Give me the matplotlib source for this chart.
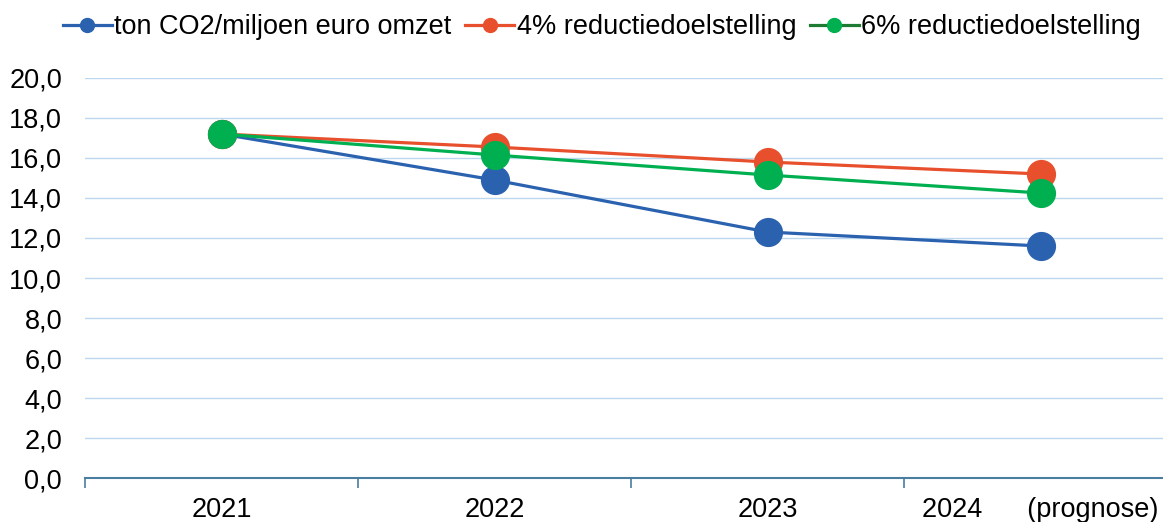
import matplotlib.pyplot as plt
from matplotlib.lines import Line2D
import numpy as np

plt.rcParams['font.family'] = ['Liberation Sans', 'DejaVu Sans']

# Data
jaren = ["2021", "2022", "2023", "2024      (prognose)"]
werkelijk = [17.2, 14.9, 12.3, 11.6]
doel_4 = [17.2, 16.55, 15.8, 15.2]
doel_6 = [17.2, 16.15, 15.15, 14.25]

blauw = "#2A62AF"
rood = "#E8502D"
groen = "#00B050"
groen_donker = "#1E7B34"

fig = plt.figure(figsize=(11.63, 5.22), dpi=100)
ax = fig.add_axes([85 / 1163, 44 / 522, 1092 / 1163, 400 / 522])

x = np.arange(len(jaren))
ax.plot(x, werkelijk, color=blauw, lw=2.3, marker="o", ms=20, zorder=3)
ax.plot(x, doel_4, color=rood, lw=2.3, marker="o", ms=20, zorder=4)
ax.plot(x, doel_6, color=groen, lw=2.3, marker="o", ms=20, zorder=5)

ax.set_xlim(-0.5, 3.5)
ax.set_ylim(0, 20)
ax.set_yticks(np.arange(0, 21, 2))
ax.set_yticklabels([f"{v:.1f}".replace(".", ",") for v in np.arange(0, 21, 2)])
ax.grid(axis="y", color="#BDD7EE", lw=1)
ax.set_axisbelow(True)

ax.set_xticks(x)
ax.set_xticklabels(jaren)
ax.set_xticks(np.arange(-0.5, 4, 1), minor=True)
ax.tick_params(axis="x", which="major", length=0, pad=14, labelsize=19.5)
ax.tick_params(axis="x", which="minor", length=7, color="#4A7EA0", width=1.2)
ax.tick_params(axis="y", length=0, pad=16.5, labelsize=19.5)

for s in ["top", "right", "left"]:
    ax.spines[s].set_visible(False)
ax.spines["bottom"].set_color("#4A7EA0")
ax.spines["bottom"].set_linewidth(1.5)

handles = [
    Line2D([], [], color=blauw, lw=2.3, marker="o", ms=10),
    Line2D([], [], color=rood, lw=2.3, marker="o", ms=10, mfc=rood, mec=rood),
    Line2D([], [], color=groen_donker, lw=2.3, marker="o", ms=10, mfc=groen, mec=groen),
]
labels = ["ton CO2/miljoen euro omzet", "4% reductiedoelstelling", "6% reductiedoelstelling"]
fig.legend(handles, labels, loc="center", bbox_to_anchor=(602 / 1163, 1 - 27 / 522),
           ncol=3, frameon=False, fontsize=19.5, handlelength=1.8, handletextpad=0.1,
           columnspacing=0.5)

fig.savefig("out.png", dpi=100)
